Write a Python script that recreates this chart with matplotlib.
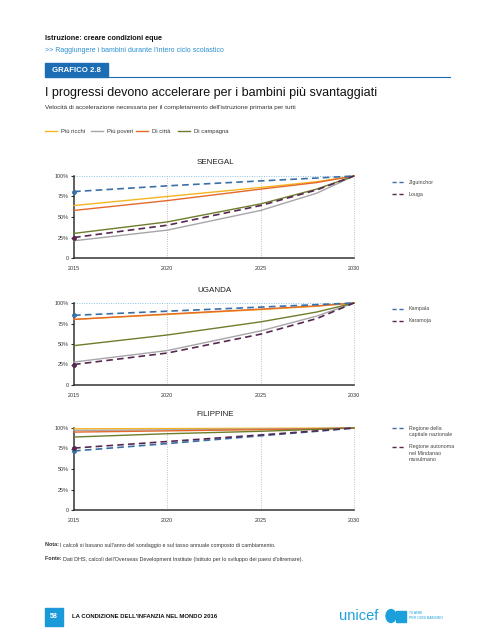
import matplotlib.pyplot as plt
from matplotlib.patches import Rectangle
from matplotlib.lines import Line2D

W, H = 495, 640

# dati
anni = [2015, 2020, 2025, 2028, 2030]

senegal = {
    "Più ricchi": [64, 75, 86, 93, 100],
    "Più poveri": [21, 34, 58, 79, 100],
    "Di città": [58, 70, 84, 92, 100],
    "Di campagna": [30, 44, 66, 84, 100],
}
senegal_reg = {
    "Ziguinchor": [81, 88, 94, 97.5, 100],
    "Louga": [25, 40, 64, 83, 100],
}

uganda = {
    "Più ricchi": [80, 86, 92, 96, 100],
    "Più poveri": [28, 42, 66, 84, 100],
    "Di città": [80, 86.5, 92.5, 96.5, 100],
    "Di campagna": [48, 61, 77, 89, 100],
}
uganda_reg = {
    "Kampala": [85, 90, 95, 98, 100],
    "Karamoja": [25, 39, 62, 81, 100],
}

filippine = {
    "Più ricchi": [99, 99.3, 99.6, 99.8, 100],
    "Più poveri": [97, 97.8, 98.7, 99.3, 100],
    "Di città": [95, 96.5, 98, 99, 100],
    "Di campagna": [89, 93, 96, 98.3, 100],
}
filippine_reg = {
    "Regione della\ncapitale nazionale": [72, 81, 90.5, 96, 100],
    "Regione autonoma\nnel Mindanao\nmusulmano": [75.5, 83.5, 91.5, 96.5, 100],
}

colori = {
    "Più ricchi": "#f7b421",
    "Più poveri": "#a7a5a8",
    "Di città": "#e4692b",
    "Di campagna": "#6e7d2c",
}
blu = "#3a6fa8"
viola = "#56284f"

fig = plt.figure(figsize=(W / 100, H / 100), dpi=100)
plt.rcParams['font.family'] = ['Liberation Sans', 'DejaVu Sans']


def fx(x):
    return x / W


def fy(y):
    return 1 - y / H


def riga(x, y, pezzi, size):
    # testo con parti in grassetto, una dopo l'altra
    r = fig.canvas.get_renderer()
    for testo, grassetto in pezzi:
        t = fig.text(fx(x), fy(y), testo, fontsize=size, va="baseline", color="#333333",
                     fontweight="bold" if grassetto else "normal")
        x += t.get_window_extent(r).width


# intestazione
fig.text(fx(45), fy(38), "Istruzione: creare condizioni eque", fontsize=5.2,
         fontweight="bold", va="center", color="#111111")
fig.text(fx(45), fy(50), ">> Raggiungere i bambini durante l'intero ciclo scolastico",
         fontsize=5.0, va="center", color="#2a8fd0")
fig.patches.append(Rectangle((fx(45), fy(77)), fx(63), 14 / H, transform=fig.transFigure,
                             color="#1c6db4"))
fig.text(fx(52), fy(70), "GRAFICO 2.8", fontsize=5.6, fontweight="bold", color="white",
         va="center")
fig.lines.append(Line2D([fx(108), fx(450)], [fy(76.5), fy(76.5)], transform=fig.transFigure,
                        color="#1c6db4", lw=0.8))
fig.text(fx(45), fy(93), "I progressi devono accelerare per i bambini più svantaggiati",
         fontsize=9.0, va="center", color="#111111")
fig.text(fx(45), fy(108), "Velocità di accelerazione necessaria per il completamento dell'istruzione primaria per tutti",
         fontsize=4.6, va="center", color="#333333")

# legenda in alto
leg_x = [45, 91, 136, 178]
for (nome, c), x in zip(colori.items(), leg_x):
    fig.lines.append(Line2D([fx(x), fx(x + 12)], [fy(131), fy(131)], transform=fig.transFigure,
                            color=c, lw=1))
    fig.text(fx(x + 16), fy(131), nome, fontsize=4.2, va="center_baseline", color="#333333")


def pannello(top, bottom, titolo, dati, reg, leg_y):
    ax = fig.add_axes([fx(74), fy(bottom), fx(280), (bottom - top) / H])
    for nome, v in dati.items():
        ax.plot(anni, v, color=colori[nome], lw=1, clip_on=False, zorder=3)
    for (nome, v), c in zip(reg.items(), [blu, viola]):
        ax.plot(anni, v, color=c, lw=1.2, ls=(0, (4, 2.5)), clip_on=False, zorder=4)
        ax.plot(anni[0], v[0], "o", color=c, ms=2.5, clip_on=False, zorder=5)
    ax.set_xlim(2015, 2030)
    ax.set_ylim(0, 100)
    ax.axhline(100, color="#8cc2e4", lw=0.7, ls=(0, (1, 1.5)), zorder=1, clip_on=False)
    for a in [2020, 2025, 2030]:
        ax.axvline(a, color="#a8a8a8", lw=0.6, ls=(0, (1, 1.8)), zorder=1, clip_on=False)
    ax.set_xticks([2015, 2020, 2025, 2030])
    ax.set_yticks([0, 25, 50, 75, 100])
    ax.set_yticklabels(["0", "25%", "50%", "75%", "100%"])
    ax.tick_params(axis="y", labelsize=3.9, length=2, width=0.8, pad=2, colors="#333333")
    ax.tick_params(axis="x", labelsize=3.9, length=0, pad=6, colors="#333333")
    for s in ["top", "right"]:
        ax.spines[s].set_visible(False)
    ax.spines["left"].set_linewidth(1.1)
    ax.spines["bottom"].set_linewidth(1.1)
    ax.spines["left"].set_color("#333333")
    ax.spines["bottom"].set_color("#333333")
    fig.text(fx(215), fy(top - 13), titolo, fontsize=5.8, ha="center", va="center",
             color="#222222")
    y = leg_y
    for (nome, v), c in zip(reg.items(), [blu, viola]):
        fig.lines.append(Line2D([fx(392), fx(404)], [fy(y), fy(y)], transform=fig.transFigure,
                                color=c, lw=1, ls=(0, (3, 2))))
        fig.text(fx(409), fy(y - 2.3), nome, fontsize=3.8, va="top", color="#444444",
                 linespacing=1.4)
        y += 12 + 6.5 * nome.count("\n")
    return ax


pannello(176, 258, "SENEGAL", senegal, senegal_reg, 182)
pannello(303, 385, "UGANDA", uganda, uganda_reg, 308.5)
pannello(428, 510, "FILIPPINE", filippine, filippine_reg, 428)

# note
riga(45, 546.5, [("Nota: ", True),
                 ("I calcoli si basano sull'anno del sondaggio e sul tasso annuale composto di cambiamento.", False)],
     3.9)
riga(45, 560.5, [("Fonte: ", True),
                 ("Dati DHS, calcoli dell'Overseas Development Institute (Istituto per lo sviluppo dei paesi d'oltremare).", False)],
     3.9)

# piè di pagina
fig.patches.append(Rectangle((fx(45), fy(626)), fx(18), 18 / H, transform=fig.transFigure,
                             color="#1b9ad9"))
fig.text(fx(54), fy(617), "58", fontsize=5, fontweight="bold", color="white", ha="center",
         va="center")
fig.text(fx(72), fy(617), "LA CONDIZIONE DELL'INFANZIA NEL MONDO 2016", fontsize=4.3,
         fontweight="bold", va="center", color="#111111")
fig.text(fx(339), fy(616), "unicef", fontsize=10.5, va="center", color="#1ca0dc")
fig.patches.append(plt.Circle((fx(391), fy(616)), 5 / W, transform=fig.transFigure,
                              color="#1ca0dc"))
fig.patches.append(Rectangle((fx(396), fy(622)), fx(10), 11 / H, transform=fig.transFigure,
                             color="#1ca0dc"))
fig.text(fx(409), fy(613.5), "70 ANNI", fontsize=2.5, va="center", color="#1ca0dc")
fig.text(fx(409), fy(618), "PER OGNI BAMBINO", fontsize=2.5, va="center", color="#1ca0dc")

fig.savefig("out.png", dpi=100, facecolor="white")
